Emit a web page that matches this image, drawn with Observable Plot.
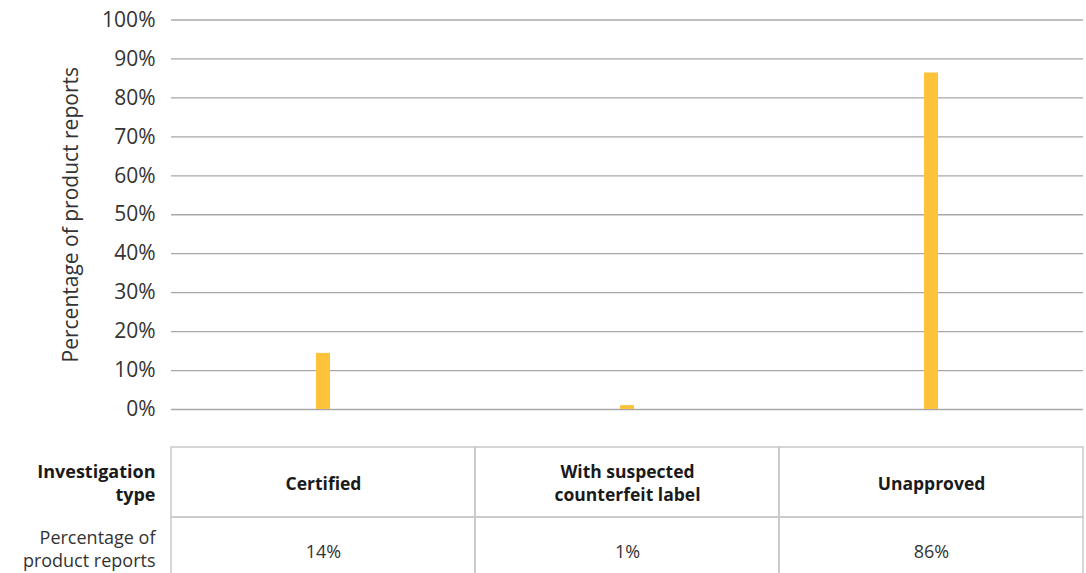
<!DOCTYPE html>
<html>
<head>
<meta charset="utf-8">
<script src="https://cdn.jsdelivr.net/npm/d3@7"></script>
<script src="https://cdn.jsdelivr.net/npm/@observablehq/plot@0.6"></script>
<style>
  html, body { margin: 0; padding: 0; background: #fff; }
  body { width: 1086px; height: 573px; overflow: hidden; font-family: "Open Sans", Roboto, sans-serif; }
  #chart svg, #table svg { display: block; }
</style>
</head>
<body>
<div id="chart"></div>
<div id="table"></div>
<script>
const categories = ["Certified", "With suspected counterfeit label", "Unapproved"];
const headerLabels = ["Certified", "With suspected\ncounterfeit label", "Unapproved"];
const values = [14.4, 1, 86.4];
const valueLabels = ["14%", "1%", "86%"];
const yTicks = [0, 10, 20, 30, 40, 50, 60, 70, 80, 90, 100];
const rowKeys = ["header", "value"];
const rowLabels = ["Investigation\ntype", "Percentage of\nproduct reports"];

const data = categories.map((c, i) => ({category: c, value: values[i]}));

const textColor = "#333333";
const gridColor = "#a8a8a8";
const barColor = "#FFC23B";
const font = "'Open Sans', Roboto, sans-serif";

const chart = Plot.plot({
  width: 1086,
  height: 430,
  marginLeft: 171,
  marginRight: 3,
  marginTop: 19.5,
  marginBottom: 21,
  style: {fontFamily: font, fontSize: "21px", color: textColor, background: "#fff"},
  x: {domain: categories, paddingInner: 0.954, paddingOuter: 0.477, axis: null},
  y: {domain: [0, 100], axis: null},
  marks: [
    Plot.ruleY(yTicks, {stroke: gridColor, strokeWidth: 1.3}),
    Plot.barY(data, {x: "category", y: "value", fill: barColor}),
    Plot.axisY({
      ticks: yTicks,
      tickSize: 0,
      tickPadding: 16,
      tickFormat: d => d + "%",
      fontSize: 21,
      fill: textColor,
      label: "Percentage of product reports",
      labelAnchor: "center",
      labelArrow: "none",
      labelOffset: 108
    })
  ]
});
document.getElementById("chart").appendChild(chart);

const cells = [];
categories.forEach((c, i) => {
  cells.push({category: c, row: "header", text: headerLabels[i]});
  cells.push({category: c, row: "value", text: valueLabels[i]});
});

const table = Plot.plot({
  width: 1086,
  height: 143,
  marginLeft: 171,
  marginRight: 3,
  marginTop: 17,
  marginBottom: 0,
  style: {fontFamily: font, fontSize: "18px", color: textColor, background: "#fff"},
  x: {domain: categories, padding: 0, axis: null},
  y: {domain: rowKeys, range: [17, 157], padding: 0, axis: null},
  marks: [
    Plot.cell(cells, {x: "category", y: "row", fill: "none", stroke: "#c9c9c9", strokeWidth: 1.5}),
    Plot.text(cells.filter(d => d.row === "header"), {x: "category", y: "row", text: "text", fontWeight: "bold", fontSize: 17.5, fill: "#1a1a1a", lineHeight: 1.3}),
    Plot.text(cells.filter(d => d.row === "value"), {x: "category", y: "row", text: "text", fontSize: 18, fill: textColor}),
    Plot.text([rowLabels[0]], {frameAnchor: "left", y: [rowKeys[0]], text: d => d, textAnchor: "end", dx: -16, fontWeight: "bold", fontSize: 18, fill: "#1a1a1a", lineHeight: 1.25}),
    Plot.text([rowLabels[1]], {frameAnchor: "left", y: [rowKeys[1]], text: d => d, textAnchor: "end", dx: -16, dy: -4, fontSize: 18, fill: textColor, lineHeight: 1.25})
  ]
});
document.getElementById("table").appendChild(table);
</script>
</body>
</html>
